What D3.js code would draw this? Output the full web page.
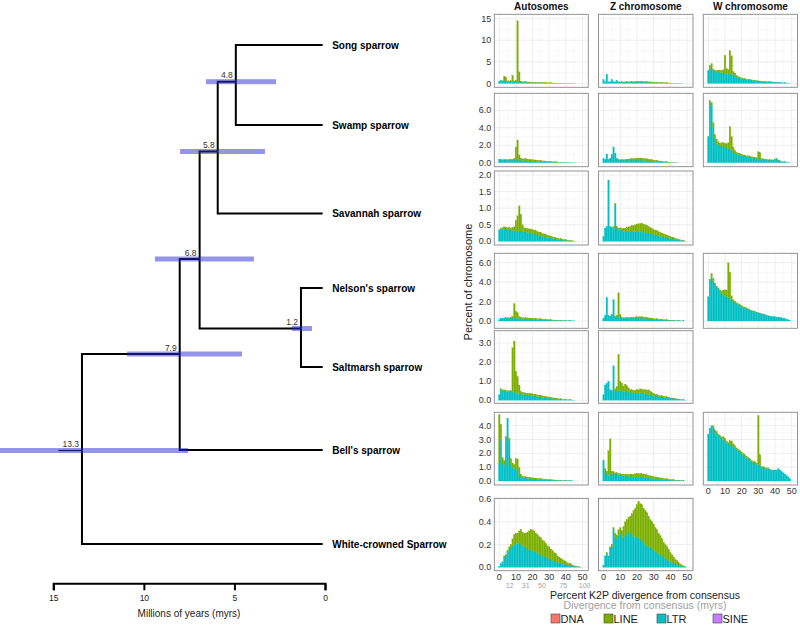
<!DOCTYPE html>
<html><head><meta charset="utf-8">
<script src="https://cdn.jsdelivr.net/npm/d3@7"></script>
<style>body{margin:0;background:#fff;} text{font-family:"Liberation Sans",Arial,Helvetica,sans-serif;}</style>
</head><body><svg id="c" width="800" height="627"></svg>
<script>
// ---------------- Tree data ----------------
const tipNames = ["Song sparrow","Swamp sparrow","Savannah sparrow","Nelson's sparrow","Saltmarsh sparrow","Bell's sparrow","White-crowned Sparrow"];
const tipRow = [0, 16, 33.7, 48.6, 64.4, 81, 99.8];
const nodeAges = [4.8, 5.8, 1.2, 6.8, 7.9, 13.3];
const nodeRow = [7.34, 21.3, 56.7, 42.8, 61.8, 81.1];
const nodeLow = [2.58, 3.19, 0.59, 3.8, 4.46, 7.44];
const nodeHigh = [6.45, 7.88, 1.7, 9.27, 10.81, 18.5];
const nodeChildren = [["t0","t1"],["n0","t2"],["t3","t4"],["n1","n2"],["n3","t5"],["n4","t6"]];
const rootEdge = 1.3;
const treeTicks = [15,10,5,0];

// ---------------- Panel data (percent of chromosome per 1% K2P bin, bins 0..50) ----------------
const songAutLTR = [0.5,0.6,0.6,0.6,0.6,0.5,0.5,0.5,0.5,0.5, 0.4,0.4,0.3,0.3,0.3,0.25,0.25,0.22,0.2,0.2, 0.18,0.17,0.16,0.15,0.14,0.13,0.12,0.11,0.1,0.09, 0.08,0.07,0.07,0.06,0.05,0.05,0.04,0.04,0.03,0.03, 0.02,0.02,0.02,0.01,0.01,0.01,0.01,0,0,0,0];
const songAutLINE = [0,0,0.05,1.1,0.8,0.1,0.1,0.1,1.4,0.1, 0.3,14.1,2.4,0.2,0.15,0.15,0.15,0.14,0.13,0.12, 0.12,0.11,0.1,0.1,0.09,0.08,0.08,0.07,0.06,0.06, 0.05,0.05,0.04,0.04,0.03,0.03,0.03,0.02,0.02,0.02, 0.01,0.01,0.01,0.01,0.01,0,0,0,0,0,0];
const songZLTR = [0.9,0.4,2.1,0.4,0.4,0.9,0.4,0.4,0.6,0.3, 0.3,0.3,0.3,0.3,0.3,0.3,0.3,0.3,0.3,0.3, 0.3,0.3,0.3,0.3,0.28,0.26,0.24,0.22,0.2,0.19, 0.18,0.17,0.15,0.14,0.13,0.12,0.1,0.09,0.08,0.07, 0.06,0.05,0.04,0.03,0.02,0.02,0.01,0.01,0,0,0];
const songZLINE = [0,0,0,0,0,0,0,0,0,0.05, 0.05,0.05,0.06,0.07,0.08,0.1,0.12,0.14,0.15,0.17, 0.18,0.2,0.2,0.2,0.2,0.2,0.19,0.18,0.16,0.15, 0.14,0.12,0.11,0.1,0.09,0.08,0.07,0.06,0.05,0.04, 0.04,0.03,0.03,0.02,0.02,0.01,0.01,0,0,0,0];
const songWLTR = [3.0,3.3,3.6,3.0,2.7,2.6,2.6,2.5,2.5,2.4, 2.3,2.3,2.2,2.2,2.1,2.0,1.8,1.5,1.3,1.2, 1.1,1.0,0.95,0.9,0.85,0.8,0.75,0.7,0.65,0.6, 0.55,0.5,0.5,0.45,0.45,0.4,0.4,0.35,0.35,0.3, 0.3,0.25,0.25,0.2,0.2,0.15,0.12,0.1,0.06,0.03,0];
const songWLINE = [0,0.8,1.0,0.3,0.4,0.4,0.5,0.6,0.5,0.8, 4.2,1.2,1.0,5.4,4.3,0.8,0.6,0.4,0.3,0.2, 0.2,0.15,0.15,0.1,0.1,0.1,0.1,0.08,0.08,0.07, 0.06,0.05,0.05,0.04,0.04,0.03,0.03,0.02,0.02,0.02, 0.01,0.01,0.01,0.01,0,0,0,0,0,0,0];

const swampAutLTR = [0.4,0.35,0.35,0.35,0.3,0.3,0.3,0.3,0.3,0.3, 0.3,0.3,0.3,0.28,0.26,0.25,0.24,0.22,0.2,0.2, 0.18,0.17,0.16,0.15,0.14,0.13,0.12,0.11,0.1,0.09, 0.08,0.07,0.07,0.06,0.05,0.05,0.04,0.04,0.03,0.03, 0.02,0.02,0.02,0.01,0.01,0.01,0.01,0,0,0,0];
const swampAutLINE = [0,0,0,0.02,0.05,0.05,0.1,0.1,0.1,0.2, 1.5,2.3,0.6,0.2,0.2,0.2,0.2,0.19,0.18,0.17, 0.16,0.15,0.14,0.13,0.12,0.11,0.1,0.09,0.08,0.07, 0.06,0.06,0.05,0.04,0.04,0.03,0.03,0.02,0.02,0.02, 0.01,0.01,0.01,0.01,0,0,0,0,0,0,0];
const swampZLTR = [0.5,0.4,1.0,0.4,0.5,0.9,1.8,1.1,0.5,0.4, 0.3,0.3,0.3,0.3,0.3,0.3,0.3,0.3,0.3,0.3, 0.3,0.3,0.3,0.28,0.26,0.24,0.22,0.2,0.19,0.18, 0.16,0.15,0.13,0.12,0.1,0.09,0.07,0.06,0.05,0.04, 0.03,0.02,0.02,0.01,0.01,0,0,0,0,0,0];
const swampZLINE = [0,0,0,0,0,0,0,0,0,0, 0.02,0.04,0.06,0.08,0.1,0.12,0.14,0.16,0.18,0.2, 0.22,0.24,0.24,0.24,0.23,0.22,0.21,0.2,0.18,0.16, 0.14,0.12,0.11,0.1,0.09,0.08,0.07,0.06,0.05,0.04, 0.03,0.02,0.02,0.01,0.01,0,0,0,0,0,0];
const swampWLTR = [3.0,6.9,6.5,4.0,2.8,2.2,2.0,1.9,1.9,1.8, 1.8,1.7,1.6,1.5,1.4,1.2,1.1,1.0,0.9,0.9, 0.85,0.8,0.75,0.7,0.7,0.65,0.6,0.55,0.5,0.5, 0.45,0.45,0.4,0.4,0.35,0.35,0.3,0.3,0.3,0.3, 0.4,0.5,0.3,0.2,0.15,0.12,0.1,0.07,0.04,0.02,0];
const swampWLINE = [0,0.2,0.4,0.6,0.4,0.5,0.4,0.3,0.4,0.5, 0.4,0.5,0.7,2.6,1.6,0.6,0.3,0.2,0.2,0.15, 0.12,0.1,0.1,0.1,0.1,0.1,0.1,0.1,0.1,0.1, 0.8,0.7,0.1,0.05,0.05,0.05,0.04,0.03,0.03,0.02, 0.02,0.02,0.01,0.01,0,0,0,0,0,0,0];

const savAutLTR = [0.35,0.36,0.37,0.38,0.37,0.36,0.35,0.34,0.33,0.32, 0.32,0.32,0.32,0.31,0.3,0.29,0.28,0.27,0.26,0.25, 0.24,0.22,0.2,0.19,0.18,0.17,0.15,0.14,0.13,0.12, 0.11,0.1,0.09,0.08,0.07,0.06,0.05,0.05,0.04,0.03, 0.03,0.02,0.02,0.01,0.01,0.01,0,0,0,0,0];
const savAutLINE = [0,0.02,0.05,0.06,0.06,0.05,0.08,0.05,0.1,0.12, 0.3,0.45,0.75,0.5,0.2,0.12,0.12,0.12,0.12,0.12, 0.12,0.12,0.12,0.11,0.1,0.1,0.09,0.08,0.08,0.07, 0.06,0.06,0.05,0.05,0.04,0.04,0.03,0.03,0.03,0.02, 0.02,0.02,0.01,0.01,0.01,0,0,0,0,0,0];
const savZLTR = [0.15,0.4,0.45,1.85,0.45,0.4,0.4,1.1,0.4,0.35, 0.35,0.3,0.3,0.3,0.3,0.3,0.3,0.3,0.3,0.3, 0.3,0.3,0.3,0.3,0.28,0.27,0.26,0.25,0.24,0.22, 0.2,0.19,0.18,0.17,0.15,0.14,0.13,0.12,0.11,0.1, 0.09,0.08,0.07,0.06,0.05,0.04,0.03,0.02,0.01,0.01,0];
const savZLINE = [0,0,0,0,0,0.02,0.05,0.05,0.05,0.05, 0.06,0.08,0.1,0.1,0.12,0.14,0.15,0.17,0.18,0.2, 0.22,0.23,0.24,0.25,0.24,0.23,0.22,0.2,0.18,0.17, 0.16,0.15,0.14,0.13,0.12,0.11,0.1,0.09,0.08,0.07, 0.06,0.05,0.04,0.03,0.03,0.02,0.02,0.01,0.01,0,0];

const nelAutLTR = [0.15,0.3,0.3,0.3,0.3,0.3,0.3,0.3,0.3,0.3, 0.3,0.28,0.27,0.26,0.25,0.24,0.23,0.22,0.21,0.2, 0.19,0.18,0.17,0.16,0.15,0.14,0.13,0.12,0.11,0.1, 0.09,0.08,0.07,0.07,0.06,0.05,0.05,0.04,0.03,0.03, 0.02,0.02,0.02,0.01,0.01,0.01,0,0,0,0,0];
const nelAutLINE = [0,0,0,0.02,0.05,0.05,0.05,0.1,0.2,1.5, 0.7,0.6,0.2,0.12,0.1,0.1,0.1,0.1,0.1,0.1, 0.1,0.1,0.09,0.09,0.08,0.08,0.07,0.07,0.06,0.06, 0.05,0.05,0.04,0.04,0.03,0.03,0.03,0.02,0.02,0.02, 0.01,0.01,0.01,0.01,0,0,0,0,0,0,0];
const nelZLTR = [0.3,0.6,2.4,0.6,0.5,0.7,2.2,0.5,0.4,0.5, 0.4,0.3,0.3,0.3,0.3,0.3,0.3,0.3,0.3,0.3, 0.3,0.3,0.3,0.28,0.27,0.26,0.24,0.22,0.2,0.19, 0.18,0.16,0.15,0.14,0.12,0.11,0.1,0.09,0.08,0.07, 0.06,0.05,0.04,0.03,0.03,0.02,0.02,0.01,0.01,0,0];
const nelZLINE = [0,0,0,0,0,0,0,0,0.2,2.4, 0.3,0.05,0.05,0.05,0.06,0.07,0.08,0.09,0.1,0.12, 0.13,0.14,0.15,0.15,0.15,0.14,0.13,0.12,0.11,0.1, 0.09,0.08,0.08,0.07,0.06,0.06,0.05,0.05,0.04,0.04, 0.03,0.03,0.02,0.02,0.01,0.01,0.01,0,0,0,0];
const nelWLTR = [2.5,4.2,4.5,4.1,3.8,3.5,3.3,3.0,2.8,2.7, 2.6,2.5,2.4,2.3,2.2,2.0,1.9,1.8,1.7,1.6, 1.5,1.4,1.35,1.3,1.2,1.1,1.05,1.0,0.95,0.9, 0.85,0.8,0.75,0.7,0.65,0.6,0.55,0.5,0.5,0.45, 0.45,0.4,0.4,0.35,0.35,0.3,0.25,0.2,0.12,0.05,0];
const nelWLINE = [0,0.1,0.4,0.3,0.1,0.1,0.1,0.2,0.3,0.5, 0.6,0.7,3.6,2.7,0.4,0.2,0.15,0.1,0.1,0.1, 0.1,0.08,0.08,0.06,0.06,0.05,0.05,0.04,0.04,0.03, 0.03,0.02,0.02,0.02,0.01,0.01,0.01,0,0,0, 0,0,0,0,0,0,0,0,0,0,0];

const saltAutLTR = [0.3,0.55,0.5,0.5,0.45,0.45,0.45,0.45,0.45,0.4, 0.4,0.35,0.35,0.3,0.3,0.3,0.28,0.27,0.26,0.25, 0.24,0.22,0.2,0.19,0.18,0.17,0.15,0.14,0.13,0.12, 0.11,0.1,0.09,0.08,0.07,0.06,0.05,0.05,0.04,0.03, 0.03,0.02,0.02,0.01,0.01,0.01,0,0,0,0,0];
const saltAutLINE = [0,0.05,0.05,0.05,0.05,0.05,0.05,0.05,2.3,2.7, 1.1,0.9,0.45,0.15,0.12,0.1,0.1,0.1,0.1,0.1, 0.1,0.1,0.1,0.09,0.09,0.08,0.08,0.07,0.07,0.06, 0.06,0.05,0.05,0.04,0.04,0.03,0.03,0.02,0.02,0.02, 0.01,0.01,0.01,0.01,0,0,0,0,0,0,0];
const saltZLTR = [0.3,0.8,0.9,1.0,0.55,0.5,1.8,0.5,0.5,0.5, 0.5,0.5,0.45,0.45,0.45,0.45,0.4,0.4,0.4,0.4, 0.4,0.4,0.4,0.38,0.36,0.34,0.32,0.3,0.28,0.26, 0.24,0.22,0.2,0.19,0.18,0.17,0.16,0.15,0.14,0.12, 0.1,0.09,0.08,0.07,0.06,0.05,0.04,0.03,0.02,0.01,0];
const saltZLINE = [0,0,0,0,0,0,0,0.1,0.2,1.9, 0.5,0.4,0.3,0.4,0.3,0.2,0.15,0.15,0.12,0.12, 0.15,0.15,0.2,0.18,0.2,0.22,0.2,0.25,0.2,0.15, 0.12,0.1,0.1,0.08,0.07,0.06,0.05,0.05,0.04,0.04, 0.03,0.03,0.02,0.02,0.01,0.01,0.01,0,0,0,0];

const bellAutLTR = [1.3,3.0,1.3,1.1,3.1,4.5,2.9,1.2,1.0,0.9, 0.9,0.8,0.5,0.3,0.25,0.22,0.2,0.19,0.18,0.17, 0.16,0.15,0.14,0.13,0.12,0.11,0.1,0.09,0.08,0.08, 0.07,0.06,0.06,0.05,0.05,0.04,0.04,0.03,0.03,0.02, 0.02,0.02,0.01,0.01,0.01,0,0,0,0,0,0];
const bellAutLINE = [3.5,1.1,0.4,0.4,0.1,0.05,0.2,0.4,0.3,0.3, 0.7,0.8,0.5,0.2,0.1,0.1,0.1,0.09,0.09,0.08, 0.08,0.07,0.07,0.06,0.06,0.05,0.05,0.05,0.04,0.04, 0.04,0.03,0.03,0.03,0.02,0.02,0.02,0.02,0.01,0.01, 0.01,0.01,0.01,0,0,0,0,0,0,0,0];
const bellZLTR = [1.5,0.8,0.5,0.4,0.5,0.5,0.5,0.5,0.5,0.45, 0.45,0.4,0.4,0.4,0.35,0.35,0.35,0.3,0.3,0.3, 0.3,0.3,0.3,0.28,0.27,0.26,0.24,0.22,0.2,0.19, 0.18,0.16,0.15,0.14,0.12,0.11,0.1,0.09,0.08,0.07, 0.06,0.05,0.04,0.03,0.03,0.02,0.02,0.01,0.01,0,0];
const bellZLINE = [0,0.1,0.2,1.8,2.55,0.2,0.2,0.1,0.1,0.1, 0.1,0.1,0.1,0.1,0.12,0.14,0.15,0.17,0.2,0.22, 0.25,0.25,0.25,0.25,0.24,0.22,0.2,0.19,0.18,0.17, 0.15,0.14,0.13,0.12,0.11,0.1,0.09,0.08,0.07,0.06, 0.05,0.05,0.04,0.03,0.03,0.02,0.02,0.01,0.01,0,0];
const bellWLTR = [3.4,3.8,4.0,3.9,3.6,3.4,3.3,3.2,3.1,3.0, 2.9,2.8,2.7,2.6,2.6,2.5,2.4,2.3,2.2,2.1, 2.0,1.9,1.8,1.7,1.6,1.5,1.4,1.3,1.3,1.2, 1.2,1.1,1.0,1.0,0.9,0.9,0.9,0.8,0.8,0.8, 0.8,0.8,0.9,0.8,0.7,0.6,0.5,0.4,0.3,0.15,0];
const bellWLINE = [0,0,0,0.1,0.1,0.2,0.1,0.1,0.1,0.2, 0.2,0.1,0.1,0.3,0.3,0.2,0.15,0.1,0.1,0.1, 0.1,0.1,0.1,0.1,0.1,0.1,0.1,0.1,0.1,0.1, 3.55,0.8,0.05,0.05,0.05,0.05,0.05,0.05,0,0, 0,0,0,0,0,0,0,0,0,0,0];

const wcsAutLTR = [0.01,0.03,0.05,0.09,0.1,0.13,0.15,0.17,0.19,0.2, 0.21,0.21,0.22,0.2,0.19,0.18,0.17,0.16,0.155,0.15, 0.145,0.14,0.13,0.125,0.12,0.11,0.1,0.095,0.09,0.08, 0.075,0.07,0.06,0.055,0.05,0.045,0.04,0.035,0.03,0.025, 0.02,0.018,0.015,0.012,0.01,0.008,0.006,0.004,0.003,0.001,0];
const wcsAutLINE = [0,0,0,0.01,0.01,0.02,0.03,0.03,0.06,0.09, 0.09,0.09,0.1,0.13,0.12,0.12,0.13,0.15,0.165,0.18, 0.185,0.18,0.17,0.165,0.15,0.15,0.14,0.135,0.12,0.11, 0.105,0.09,0.09,0.075,0.07,0.055,0.05,0.045,0.04,0.035, 0.03,0.022,0.02,0.018,0.01,0.007,0.004,0.004,0.002,0.001,0];
const wcsZLTR = [0.02,0.1,0.12,0.1,0.17,0.18,0.33,0.27,0.25,0.28, 0.3,0.25,0.27,0.29,0.28,0.31,0.3,0.28,0.27,0.26, 0.27,0.26,0.24,0.23,0.22,0.2,0.19,0.18,0.17,0.16, 0.15,0.14,0.13,0.12,0.11,0.1,0.09,0.08,0.07,0.06, 0.05,0.04,0.035,0.03,0.025,0.02,0.015,0.01,0.005,0.002,0];
const wcsZLINE = [0,0,0.01,0,0.01,0.02,0.02,0.03,0.03,0.05, 0.05,0.07,0.09,0.11,0.14,0.13,0.15,0.19,0.23,0.26, 0.28,0.32,0.32,0.32,0.3,0.3,0.29,0.27,0.25,0.24, 0.23,0.21,0.2,0.18,0.17,0.15,0.13,0.12,0.11,0.1, 0.08,0.07,0.055,0.04,0.035,0.02,0.015,0.01,0.005,0.003,0];

const chromNames = ["Autosomes","Z chromosome","W chromosome"];
const rowYTicks = [[0,5,10,15],[0,2,4,6],[0,0.5,1,1.5,2],[0,2,4,6],[0,1,2,3],[0,1,2,3,4],[0,0.2,0.4,0.6]];
const rowYLo = [-0.9,-0.46,-0.11,-0.75,-0.16,-0.29,-0.03];
const rowYHi = [16.0,7.94,2.12,6.97,3.64,4.97,0.606];
const xTicks = [0,10,20,30,40,50];
const myrTicks = [12,31,50,75,100];
const myrPerPercent = 1.95;
const legendKeys = ["DNA","LINE","LTR","SINE"];
const legendColors = ["#F8766D","#7CAE00","#00BFC4","#C77CFF"];

const panels = [
  {r:0,c:0,ltr:songAutLTR,line:songAutLINE},{r:0,c:1,ltr:songZLTR,line:songZLINE},{r:0,c:2,ltr:songWLTR,line:songWLINE},
  {r:1,c:0,ltr:swampAutLTR,line:swampAutLINE},{r:1,c:1,ltr:swampZLTR,line:swampZLINE},{r:1,c:2,ltr:swampWLTR,line:swampWLINE},
  {r:2,c:0,ltr:savAutLTR,line:savAutLINE},{r:2,c:1,ltr:savZLTR,line:savZLINE},
  {r:3,c:0,ltr:nelAutLTR,line:nelAutLINE},{r:3,c:1,ltr:nelZLTR,line:nelZLINE},{r:3,c:2,ltr:nelWLTR,line:nelWLINE},
  {r:4,c:0,ltr:saltAutLTR,line:saltAutLINE},{r:4,c:1,ltr:saltZLTR,line:saltZLINE},
  {r:5,c:0,ltr:bellAutLTR,line:bellAutLINE},{r:5,c:1,ltr:bellZLTR,line:bellZLINE},{r:5,c:2,ltr:bellWLTR,line:bellWLINE},
  {r:6,c:0,ltr:wcsAutLTR,line:wcsAutLINE},{r:6,c:1,ltr:wcsZLTR,line:wcsZLINE}
];
const xAxisPanels = [[5,2],[6,0],[6,1]];

// ---------------- Layout ----------------
const rowTop = [14.3,93.3,171,253.3,330.7,412.3,498.3];
const rowBot = [87.3,166.7,245,328.3,403.3,485,570.7];
const colL = [494.3,598.5,703.3];
const colR = [588.3,693,797.5];

const svg = d3.select("#c");
const colorOf = {}; legendKeys.forEach((k,i)=>colorOf[k]=legendColors[i]);

// ---------------- Tree ----------------
const xT = d3.scaleLinear().domain([15,0]).range([51.2,322.7]);
const xAx = d3.scaleLinear().domain([15,0]).range([53.3,325]);
const yT = d3.scaleLinear().domain([0,100]).range([45,545]);
function pos(id){
  const i = +id.slice(1);
  return id[0]==="t" ? {age:0,u:tipRow[i]} : {age:nodeAges[i],u:nodeRow[i]};
}
const gT = svg.append("g");
nodeChildren.forEach((ch,j)=>{
  ch.forEach(cid=>{
    const c = pos(cid);
    gT.append("path")
      .attr("d",`M${xT(nodeAges[j])},${yT(nodeRow[j])}V${yT(c.u)}H${xT(c.age)}`)
      .attr("fill","none").attr("stroke","#000").attr("stroke-width",2);
  });
});
const rootI = nodeAges.length-1;
gT.append("line").attr("x1",xT(nodeAges[rootI]+rootEdge)).attr("x2",xT(nodeAges[rootI]))
  .attr("y1",yT(nodeRow[rootI])).attr("y2",yT(nodeRow[rootI])).attr("stroke","#000").attr("stroke-width",1.2);
// confidence bars
nodeAges.forEach((a,j)=>{
  gT.append("rect").attr("x",xT(nodeHigh[j])).attr("width",xT(nodeLow[j])-xT(nodeHigh[j]))
    .attr("y",yT(nodeRow[j])-2.5).attr("height",5).attr("fill","#2a2ad2").attr("opacity",0.5);
  gT.append("text").attr("x",xT(a)-3).attr("y",yT(nodeRow[j])-3.5).attr("text-anchor","end")
    .attr("font-size",8.5).attr("fill","#333").text(a.toFixed(1));
});
tipNames.forEach((n,i)=>{
  gT.append("text").attr("x",xT(0)+9.5).attr("y",yT(tipRow[i])).attr("dy","0.35em")
    .attr("font-size",10).attr("font-weight","bold").attr("fill","#000").text(n);
});
const axG = svg.append("g").attr("transform","translate(0,583.3)")
  .call(d3.axisBottom(xAx).tickValues(treeTicks).tickSize(7).tickSizeOuter(7).tickPadding(5).tickFormat(d3.format("d")));
axG.select(".domain").attr("stroke","#000").attr("stroke-width",2);
axG.selectAll(".tick line").attr("stroke","#000").attr("stroke-width",2);
axG.selectAll(".tick text").attr("font-size",8.5).attr("fill","#222").attr("font-family","Liberation Sans, Arial, sans-serif");
svg.append("text").attr("x",189).attr("y",616.5).attr("text-anchor","middle").attr("font-size",10).attr("fill","#222").text("Millions of years (myrs)");

// ---------------- Panels ----------------
const stack = d3.stack().keys(["LTR","LINE"]);
function minorTicks(t, lo, hi){
  const out=[]; const step=t[1]-t[0];
  for(let i=-1;i<t.length;i++){ const v=t[0]+step*(i+0.5); if(v>lo && v<hi) out.push(v); }
  return out;
}
panels.forEach(p=>{
  const xs = d3.scaleLinear().domain([-3,53.5]).range([colL[p.c],colR[p.c]]);
  const ys = d3.scaleLinear().domain([rowYLo[p.r],rowYHi[p.r]]).range([rowBot[p.r],rowTop[p.r]]);
  const g = svg.append("g");
  const xMin = minorTicks(xTicks,-3,53.5), yMaj = rowYTicks[p.r], yMin = minorTicks(yMaj,rowYLo[p.r],rowYHi[p.r]);
  g.selectAll(".vmin").data(xMin).join("line").attr("x1",d=>xs(d)).attr("x2",d=>xs(d)).attr("y1",rowTop[p.r]).attr("y2",rowBot[p.r]).attr("stroke","#f2f2f2").attr("stroke-width",0.5);
  g.selectAll(".hmin").data(yMin).join("line").attr("y1",d=>ys(d)).attr("y2",d=>ys(d)).attr("x1",colL[p.c]).attr("x2",colR[p.c]).attr("stroke","#f2f2f2").attr("stroke-width",0.5);
  g.selectAll(".vmaj").data(xTicks).join("line").attr("x1",d=>xs(d)).attr("x2",d=>xs(d)).attr("y1",rowTop[p.r]).attr("y2",rowBot[p.r]).attr("stroke","#e6e6e6").attr("stroke-width",0.7);
  g.selectAll(".hmaj").data(yMaj).join("line").attr("y1",d=>ys(d)).attr("y2",d=>ys(d)).attr("x1",colL[p.c]).attr("x2",colR[p.c]).attr("stroke","#e6e6e6").attr("stroke-width",0.7);
  const table = p.ltr.map((v,k)=>({k:k, LTR:v, LINE:p.line[k]}));
  const series = stack(table);
  series.forEach(s=>{
    g.append("g").attr("fill",colorOf[s.key]).attr("stroke",colorOf[s.key]).attr("stroke-width",0.15)
      .selectAll("rect").data(s.filter(d=>d[1]-d[0]>0)).join("rect")
      .attr("x",d=>xs(d.data.k-0.5)).attr("width",d=>xs(d.data.k+0.5)-xs(d.data.k-0.5))
      .attr("y",d=>ys(d[1])).attr("height",d=>ys(d[0])-ys(d[1]));
  });
  g.append("rect").attr("x",colL[p.c]).attr("y",rowTop[p.r]).attr("width",colR[p.c]-colL[p.c]).attr("height",rowBot[p.r]-rowTop[p.r])
    .attr("fill","none").attr("stroke","#888").attr("stroke-width",0.9);
  if(p.c===0){
    const fmt = p.r===0 ? d3.format("d") : d3.format(".1f");
    g.selectAll(".yl").data(yMaj).join("text").attr("x",colL[0]-3).attr("y",d=>ys(d)).attr("dy","0.35em")
      .attr("text-anchor","end").attr("font-size",9).attr("fill","#333").text(fmt);
  }
  if(xAxisPanels.some(a=>a[0]===p.r&&a[1]===p.c)){
    g.selectAll(".xl").data(xTicks).join("text").attr("x",d=>xs(d)).attr("y",rowBot[p.r]+9.3)
      .attr("text-anchor","middle").attr("font-size",9).attr("fill","#333").text(d=>d);
    if(p.r===6 && p.c===0){
      g.selectAll(".ml").data(myrTicks).join("text").attr("x",d=>xs(d/myrPerPercent)).attr("y",rowBot[p.r]+17.5)
        .attr("text-anchor","middle").attr("font-size",7).attr("fill","#a0a0a0").text(d=>d);
    }
  }
});
// column headers
chromNames.forEach((n,c)=>{
  svg.append("text").attr("x",(colL[c]+colR[c])/2).attr("y",9.5).attr("text-anchor","middle")
    .attr("font-size",10).attr("font-weight","bold").attr("fill","#111").text(n);
});
// axis titles
svg.append("text").attr("transform","translate(472,282) rotate(-90)").attr("text-anchor","middle")
  .attr("font-size",11).attr("fill","#222").text("Percent of chromosome");
svg.append("text").attr("x",645).attr("y",598.5).attr("text-anchor","middle").attr("font-size",10.5).attr("fill","#222").text("Percent K2P divergence from consensus");
svg.append("text").attr("x",645).attr("y",609.3).attr("text-anchor","middle").attr("font-size",10.5).attr("fill","#a0a0a0").text("Divergence from consensus (myrs)");
// legend
const legX = [551,604,657,713];
legendKeys.forEach((k,i)=>{
  svg.append("rect").attr("x",legX[i]).attr("y",614).attr("width",9).attr("height",9)
    .attr("fill",legendColors[i]).attr("stroke","#444").attr("stroke-width",0.6);
  svg.append("text").attr("x",legX[i]+9.5).attr("y",622.8).attr("font-size",11).attr("fill","#222").text(k);
});
</script></body></html>
